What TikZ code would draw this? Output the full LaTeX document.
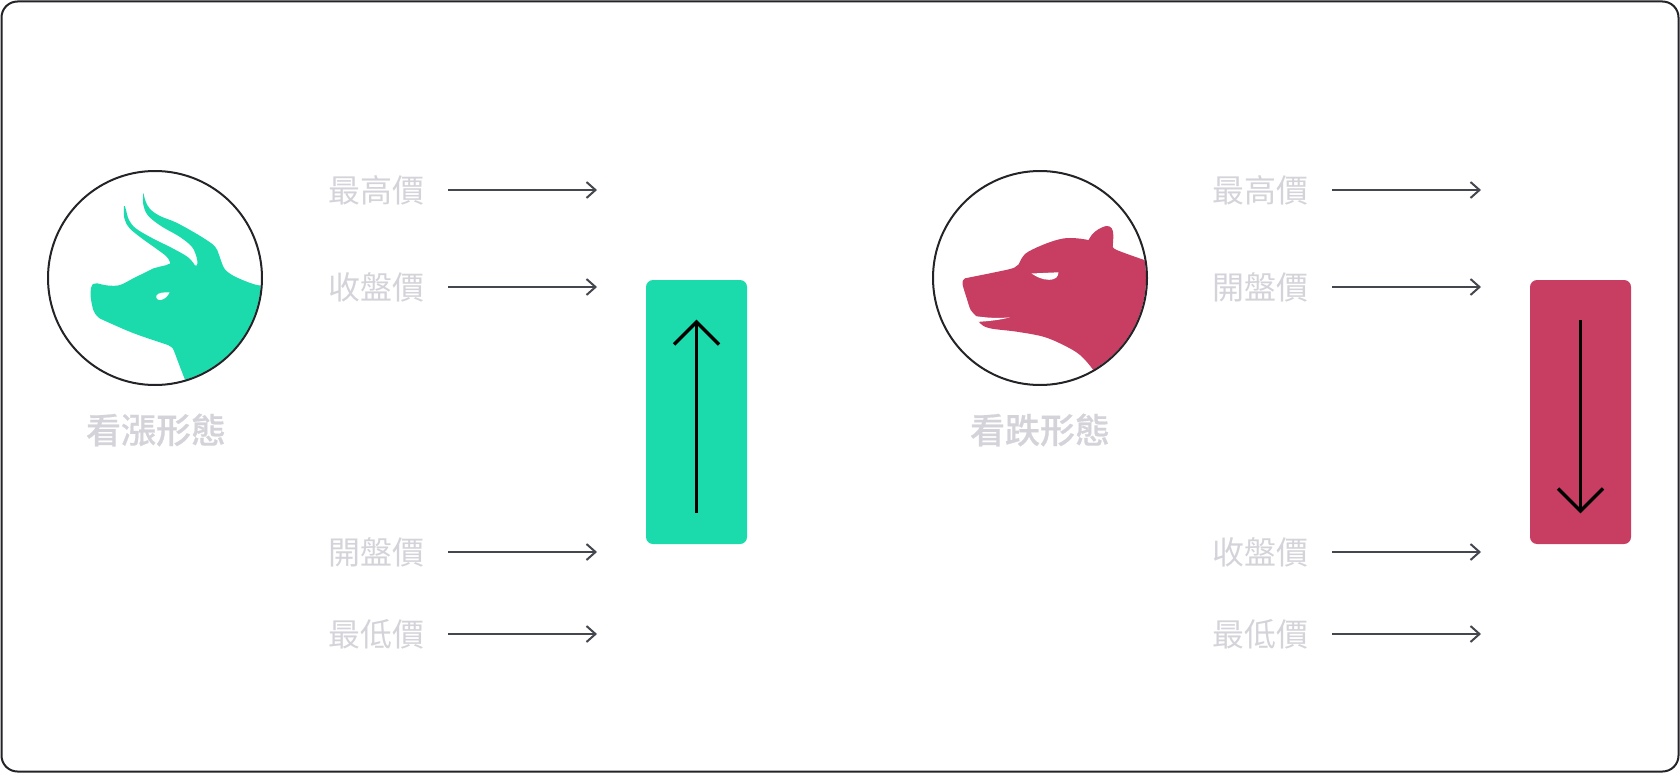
\documentclass[tikz,border=0pt]{standalone}
\usepackage{fontspec}
\newfontfamily\cjk[BoldFont={* Medium}, BoldFeatures={FakeBold=0.5}]{Noto Sans CJK TC}
\usetikzlibrary{arrows.meta}
\definecolor{bullg}{HTML}{1BDBAD}
\definecolor{bearr}{HTML}{C83E63}
\definecolor{lblgray}{HTML}{D3D3D9}
\definecolor{conng}{HTML}{45474F}
\definecolor{framec}{HTML}{242428}
\tikzset{
  lbl/.style={inner sep=0pt, text=lblgray, font=\cjk\fontsize{32}{38}\selectfont},
  ttl/.style={inner sep=0pt, text=lblgray, font=\cjk\bfseries\fontsize{35}{42}\selectfont},
  conn/.style={draw=conng, line width=2pt, -{Straight Barb[length=9pt,width=16pt]}},
  candle/.style={rounded corners=7pt, inner sep=0pt, minimum width=101pt, minimum height=264pt},
  bigarrow/.style={draw=black, line width=3.3pt, line join=miter},
  ring/.style={draw=framec, line width=2pt, circle, minimum size=214pt, inner sep=0pt},
  sm/.style={smooth, tension=0.6}
}
\begin{document}
\begin{tikzpicture}[x=1pt,y=-1pt]
\useasboundingbox (0,0) rectangle (1680,773);
\draw[framec, line width=2pt, rounded corners=16pt] (1.5,1.5) rectangle (1678.5,771.5);

% ---------- bull ----------
\begin{scope}
\clip (155,278) circle[radius=106pt];
\fill[bullg]
  plot[sm] coordinates {(124,206) (124.3,218) (129,227.5) (140,237) (156,248.5) (166,256) (169.5,261) (170,263.5)}
  -- plot[sm] coordinates {(166,265.2) (153,268.5) (146.7,271.7) (133.3,278.3) (120,285) (108,285.5) (97,283.3)}
  -- plot[sm] coordinates {(93,284) (91,288) (90.7,297) (93.3,310) (97,316) (100,318.5)}
  -- plot[sm] coordinates {(102,319.5) (133,333) (168,345)}
  -- plot[sm] coordinates {(172,347.5) (174,351) (180,367) (187,385) (192,400)}
  -- (290,400) -- (290,286)
  -- plot[sm] coordinates {(263,286) (255,284.5) (245,281) (233,275.5) (225,269.5) (221.5,262) (219,254.7) (215,246.5) (205,239) (190,230) (175,222) (160,216) (150,209) (145.5,201) (143.5,193)}
  -- plot[sm] coordinates {(143.3,193.5) (143.3,204.7) (148,215.5) (161,226) (180,237) (192,247) (196.5,257) (197.5,263.5) (196.5,265.6) (195,265.3)}
  -- plot[sm] coordinates {(194.6,265) (193,262.5) (187,256.5) (172,248) (152,238) (136,228.5) (129,220) (126,210) (124.8,206)}
  -- cycle;
\fill[white] (169.5,292.5) .. controls (165,292) and (158,292.5) .. (156.5,295.5)
  .. controls (155.5,298.5) and (158,300.5) .. (161,300)
  .. controls (165,299) and (168,296) .. cycle;
\end{scope}
\node[ring] (bullc) at (155,278) {};
\node[ttl] (t1) at (156,430) {看漲形態};

% ---------- bear ----------
\begin{scope}
\clip (1040,278) circle[radius=106pt];
\fill[bearr]
  plot[sm] coordinates {(965,278.3) (990,273.3) (1008,269.5) (1014.5,267.5) (1018.5,264.5) (1021.7,258.3) (1028.3,251.7) (1046.7,243.3) (1063.3,238.5) (1076.7,238.3) (1088.3,240)}
  -- plot[sm] coordinates {(1089,239.5) (1092,234.5) (1098.3,229.3) (1106.7,226) (1111.7,228.3) (1113.3,235) (1112.7,246.7)}
  -- plot[sm] coordinates {(1113.5,248) (1116.7,250) (1130,255) (1150,262)}
  -- (1160,262) -- (1160,400) -- (1105,400)
  -- plot[sm] coordinates {(1100,382) (1093.3,370) (1080,355) (1063.3,345) (1043.3,336.7) (1016.7,331.7) (990,328.3) (980,323.3) (976,316) (970.7,310) (966.7,298.3) (962.7,285) (963,280.5)}
  -- cycle;
\fill[white] (972,315.5) .. controls (985,318) and (1000,318.5) .. (1010,317.3)
  .. controls (1000,320) and (990,321) .. (979,321.8) -- cycle;
\fill[white] (1031.5,273.5) -- (1058.5,272.3) .. controls (1058,277) and (1056,279.5) .. (1049,279.8)
  .. controls (1042,279.8) and (1036,276.5) .. cycle;
\end{scope}
\node[ring] (bearc) at (1040,278) {};
\node[ttl] (t2) at (1040,430) {看跌形態};

% ---------- left labels ----------
\node[lbl] (l1) at (376,190) {最高價};
\node[lbl] (l2) at (376,287) {收盤價};
\node[lbl] (l3) at (376,552) {開盤價};
\node[lbl] (l4) at (376,634) {最低價};
\coordinate (e1) at (597,190);
\coordinate (e2) at (597,287);
\coordinate (e3) at (597,552);
\coordinate (e4) at (597,634);
\foreach \i in {1,2,3,4} \draw[conn] ([xshift=24pt]l\i.east) -- (e\i);

% ---------- right labels ----------
\node[lbl] (r1) at (1260,190) {最高價};
\node[lbl] (r2) at (1260,287) {開盤價};
\node[lbl] (r3) at (1260,552) {收盤價};
\node[lbl] (r4) at (1260,634) {最低價};
\coordinate (f1) at (1481,190);
\coordinate (f2) at (1481,287);
\coordinate (f3) at (1481,552);
\coordinate (f4) at (1481,634);
\foreach \i in {1,2,3,4} \draw[conn] ([xshift=24pt]r\i.east) -- (f\i);

% ---------- candles ----------
\node[candle, fill=bullg] (gc) at (696.5,412) {};
\coordinate (gt) at (696.5,322);
\coordinate (gb) at (696.5,513);
\draw[bigarrow] (gb) -- (gt);
\draw[bigarrow] (674,344.5) -- (gt) -- (719,344.5);

\node[candle, fill=bearr] (rc) at (1580.5,412) {};
\coordinate (rt) at (1580.5,320);
\coordinate (rb) at (1580.5,511);
\draw[bigarrow] (rt) -- (rb);
\draw[bigarrow] (1558,488.5) -- (rb) -- (1603,488.5);
\end{tikzpicture}
\end{document}
